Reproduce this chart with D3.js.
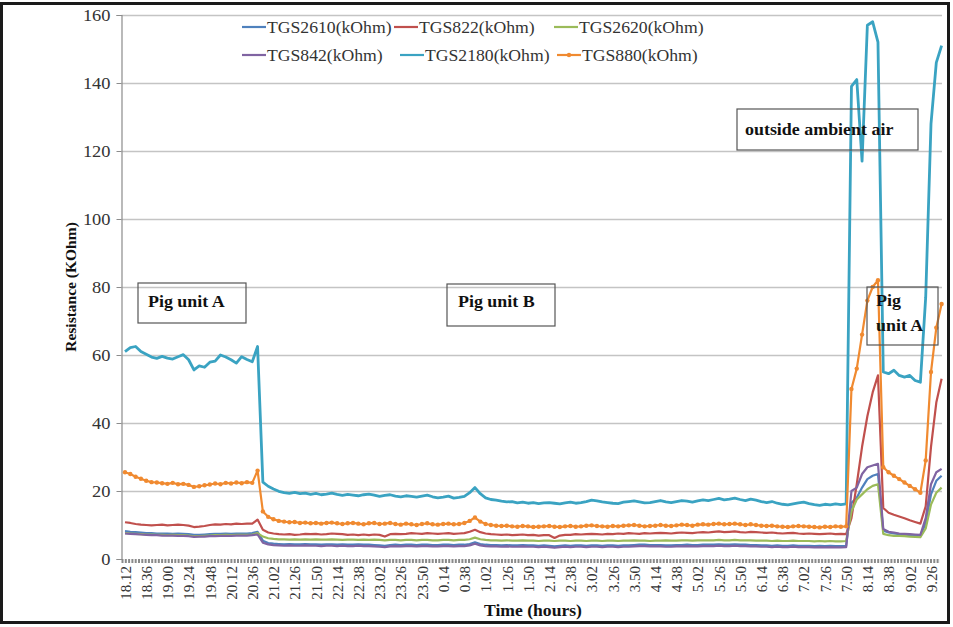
<!DOCTYPE html>
<html>
<head>
<meta charset="utf-8">
<script src="https://cdn.jsdelivr.net/npm/d3@7"></script>
<style>
  html, body { margin: 0; padding: 0; background: #fff; }
  svg { display: block; }
  text { font-family: "Liberation Serif", "Times New Roman", serif; }
</style>
</head>
<body>
<svg id="chart" width="953" height="627"></svg>
<script>
// Time-of-day labels on the category axis (one label every 4 samples)
const timeLabels = ["18.12","18.36","19.00","19.24","19.48","20.12","20.36","21.02","21.26","21.50",
  "22.14","22.38","23.02","23.26","23.50","0.14","0.38","1.02","1.26","1.50",
  "2.14","2.38","3.02","3.26","3.50","4.14","4.38","5.02","5.26","5.50",
  "6.14","6.38","7.02","7.26","7.50","8.14","8.38","9.02","9.26"];
const samplesPerLabel = 4;

// Sensor resistance readings (kOhm), one value per sample
const tgs2610 = [
  8.2, 8.0, 7.9, 7.8, 7.6, 7.6, 7.5, 7.5, 7.5, 7.4, 7.5, 7.4, 7.3, 7.1, 7.1, 7.2, 7.3, 7.4, 7.4, 7.5, 7.4, 7.5, 7.5, 7.5, 7.6, 8.0,
  5.4, 4.7, 4.5, 4.4,
  4.3, 4.4, 4.3, 4.3, 4.4, 4.3, 4.3, 4.2, 4.3, 4.3,
  4.2, 4.3, 4.2, 4.2, 4.3, 4.2, 4.2, 4.1, 4.0, 3.9,
  4.1, 4.2, 4.1, 4.2, 4.2, 4.1, 4.2, 4.2, 4.1, 4.1,
  4.2, 4.2, 4.1, 4.2, 4.2, 4.4, 4.9, 4.4, 4.2, 4.1,
  4.1, 4.0, 4.1, 4.0, 4.0, 4.1, 4.0, 4.0, 3.9, 4.0,
  3.9, 3.7, 3.9, 4.0, 3.9, 4.0, 4.0, 3.9, 4.0, 4.0,
  3.9, 4.0, 4.0, 3.9, 4.0, 4.0, 4.1, 4.2, 4.2, 4.1,
  4.1, 4.1, 4.0, 4.0, 4.1, 4.1, 4.2, 4.1, 4.1, 4.2,
  4.2, 4.2, 4.3, 4.2, 4.2, 4.3, 4.2, 4.2, 4.1, 4.1,
  4.0, 4.0, 3.9, 4.0, 3.9, 3.9, 4.0, 3.9, 3.9, 3.9,
  3.8, 3.9, 3.8, 3.9, 3.8, 3.8,
  3.9, 16.5, 18, 21, 23.5, 24.5, 25, 8.3, 7.8, 7.5, 7.3, 7.2, 7.0, 7.0, 6.9, 10.5, 19, 23, 24.5
];
const tgs822 = [
  10.8, 10.6, 10.3, 10.1, 10.0, 9.9, 10.0, 10.1, 9.9, 10.0, 10.1, 10.0, 9.8, 9.4, 9.5, 9.7, 10.0, 10.2, 10.1, 10.3, 10.2, 10.4, 10.3, 10.4, 10.4, 11.6,
  8.6, 7.8, 7.5, 7.3,
  7.2, 7.3, 7.1, 7.2, 7.4, 7.3, 7.4, 7.2, 7.3, 7.5,
  7.4, 7.3, 7.1, 7.2, 7.0, 7.2, 7.0, 7.2, 7.1, 6.6,
  7.3, 7.4, 7.3, 7.4, 7.6, 7.5, 7.4, 7.6, 7.5, 7.4,
  7.5, 7.6, 7.4, 7.5, 7.6, 8.0, 8.6, 7.9, 7.5, 7.3,
  7.2, 7.1, 7.2, 7.0, 7.1, 7.2, 7.0, 7.1, 6.9, 7.0,
  7.0, 6.2, 6.9, 7.1, 7.1, 7.3, 7.2, 7.3, 7.4, 7.3,
  7.2, 7.4, 7.3, 7.5, 7.4, 7.6, 7.5, 7.4, 7.6, 7.5,
  7.6, 7.7, 7.6, 7.5, 7.7, 7.8, 7.7, 7.6, 7.8, 7.9,
  7.8, 8.0, 8.1, 7.9, 8.0, 8.1, 7.9, 7.8, 8.0, 7.9,
  7.8, 7.7, 7.8, 7.6, 7.5, 7.6, 7.7, 7.5, 7.4, 7.5,
  7.4, 7.3, 7.4, 7.5, 7.3, 7.4,
  7.3, 12, 22, 33, 42, 49, 54, 15, 13.6, 13, 12.5, 12, 11.4, 10.9, 10.4, 15.5, 33, 46, 53
];
const tgs2620 = [
  7.6, 7.5, 7.4, 7.3, 7.2, 7.2, 7.1, 7.1, 7.0, 7.1, 7.0, 7.0, 6.9, 6.7, 6.7, 6.8, 6.9, 7.0, 7.0, 7.1, 7.0, 7.1, 7.1, 7.1, 7.2, 7.6,
  6.6, 6.1, 5.9, 5.8,
  5.8, 5.7, 5.8, 5.7, 5.8, 5.7, 5.8, 5.7, 5.7, 5.8,
  5.7, 5.6, 5.7, 5.7, 5.6, 5.7, 5.6, 5.7, 5.6, 5.5,
  5.6, 5.6, 5.5, 5.6, 5.6, 5.5, 5.6, 5.6, 5.5, 5.5,
  5.6, 5.6, 5.5, 5.6, 5.6, 5.8, 6.3, 5.8, 5.6, 5.5,
  5.5, 5.4, 5.5, 5.4, 5.4, 5.5, 5.4, 5.4, 5.3, 5.4,
  5.4, 5.3, 5.4, 5.4, 5.3, 5.4, 5.4, 5.3, 5.4, 5.4,
  5.3, 5.4, 5.4, 5.3, 5.4, 5.4, 5.5, 5.4, 5.4, 5.3,
  5.4, 5.4, 5.5, 5.4, 5.4, 5.5, 5.5, 5.4, 5.5, 5.5,
  5.5, 5.5, 5.6, 5.5, 5.5, 5.6, 5.5, 5.5, 5.5, 5.4,
  5.4, 5.4, 5.3, 5.4, 5.3, 5.3, 5.4, 5.3, 5.3, 5.3,
  5.2, 5.3, 5.2, 5.3, 5.2, 5.2,
  5.3, 14, 17.5, 19, 20.5, 21.5, 22, 7.4, 7.0, 6.8, 6.8, 6.7, 6.6, 6.5, 6.4, 9, 16, 19.5, 21
];
const tgs842 = [
  7.5, 7.4, 7.3, 7.2, 7.1, 7.0, 7.0, 6.9, 6.9, 6.9, 6.8, 6.8, 6.7, 6.5, 6.6, 6.6, 6.7, 6.7, 6.8, 6.8, 6.8, 6.9, 6.9, 6.9, 7.0, 7.2,
  4.8, 4.3, 4.1, 4.0,
  3.9, 4.0, 3.9, 3.9, 4.0, 3.9, 3.9, 3.8, 3.9, 3.9,
  3.8, 3.9, 3.8, 3.8, 3.9, 3.8, 3.8, 3.7, 3.6, 3.5,
  3.7, 3.8, 3.7, 3.8, 3.8, 3.7, 3.8, 3.8, 3.7, 3.7,
  3.8, 3.8, 3.7, 3.8, 3.8, 4.0, 4.5, 4.0, 3.8, 3.7,
  3.7, 3.6, 3.7, 3.6, 3.6, 3.7, 3.6, 3.6, 3.5, 3.6,
  3.5, 3.3, 3.5, 3.6, 3.5, 3.6, 3.6, 3.5, 3.6, 3.6,
  3.5, 3.6, 3.6, 3.5, 3.6, 3.6, 3.7, 3.8, 3.8, 3.7,
  3.7, 3.7, 3.6, 3.6, 3.7, 3.7, 3.8, 3.7, 3.7, 3.8,
  3.8, 3.8, 3.9, 3.8, 3.8, 3.9, 3.8, 3.8, 3.7, 3.7,
  3.6, 3.6, 3.5, 3.6, 3.5, 3.5, 3.6, 3.5, 3.5, 3.5,
  3.4, 3.5, 3.4, 3.5, 3.4, 3.4,
  3.5, 20, 21, 25, 27, 27.5, 28, 8.8, 8.0, 7.8, 7.5, 7.4, 7.3, 7.2, 7.1, 12, 22, 25.5, 26.5
];
const tgs2180 = [
  61.0, 62.2, 62.5, 61.0, 60.2, 59.4, 59.0, 59.6, 59.1, 58.8, 59.5, 60.1, 58.6, 55.6, 56.8, 56.4, 57.9, 58.2, 60.0, 59.4, 58.6, 57.6, 59.5, 58.7, 58.0, 62.5,
  22.6, 21.4, 20.6, 19.9,
  19.5, 19.3, 19.6, 19.2, 19.4, 19.0, 19.3, 18.9, 19.1, 19.4,
  19.0, 18.7, 19.0, 18.8, 18.6, 18.9, 19.1, 18.8, 18.4, 18.7,
  18.9, 18.5, 18.3, 18.6, 18.4, 18.2, 18.5, 18.8, 18.3, 18.0,
  18.2, 18.5, 17.9, 18.1, 18.4, 19.5, 21.0, 19.2, 18.0, 17.5,
  17.3, 17.0, 16.8, 16.9, 16.5, 16.7, 16.4, 16.6, 16.3, 16.5,
  16.6, 16.4, 16.2, 16.5, 16.7, 16.4, 16.6, 16.9, 17.3, 17.1,
  16.8, 16.6, 16.4, 16.3, 16.7, 16.9, 17.1, 16.8, 16.5, 16.6,
  16.9, 17.2, 16.8, 16.6, 16.9, 17.2, 17.0, 16.7, 17.1, 17.4,
  17.2, 17.5, 17.8, 17.4, 17.6, 17.9, 17.5, 17.2, 17.6, 17.3,
  16.9, 16.6, 16.9, 16.4, 16.1, 15.9, 16.2, 16.5, 16.7, 16.3,
  16.0, 15.8, 16.1, 15.9, 16.2, 16.0,
  16.2, 139, 141, 117, 157, 158, 152, 55, 54.5, 55.5, 54, 53.5, 54, 52.5, 52, 77, 128, 146, 151
];
const tgs880 = [
  25.5, 25.0, 24.2, 23.6, 23.0, 22.6, 22.5, 22.3, 22.1, 22.4, 22.0, 22.1, 21.8, 21.2, 21.4, 21.7, 21.9, 22.2, 22.0, 22.4, 22.2, 22.5, 22.3, 22.6, 22.4, 26.0,
  14.0, 12.4, 11.7, 11.2,
  11.0, 10.8, 10.9, 10.6, 10.7, 10.5, 10.6, 10.4, 10.6, 10.7,
  10.5, 10.3, 10.5, 10.6, 10.4, 10.2, 10.5, 10.6, 10.3, 10.4,
  10.6, 10.3, 10.1, 10.4, 10.2, 10.0, 10.3, 10.5, 10.2, 10.1,
  10.3, 10.4, 10.2, 10.3, 10.6, 11.2, 12.2, 11.0, 10.3, 10.0,
  9.8, 9.7, 9.8, 9.6, 9.5, 9.7, 9.6, 9.4, 9.5, 9.6,
  9.7, 9.5, 9.4, 9.6, 9.7, 9.5, 9.6, 9.8, 9.9, 9.7,
  9.6, 9.5, 9.7, 9.6, 9.8, 9.9, 10.0, 9.8, 9.6, 9.7,
  9.8, 10.0, 9.8, 9.7, 9.9, 10.1, 10.0, 9.8, 10.1, 10.2,
  10.1, 10.3, 10.4, 10.2, 10.3, 10.4, 10.2, 10.0, 10.2, 10.0,
  9.8, 9.7, 9.8, 9.6, 9.5, 9.4, 9.6, 9.7, 9.6, 9.5,
  9.4, 9.3, 9.5, 9.4, 9.6, 9.5,
  9.6, 50, 56, 66, 76, 80, 82, 27, 25.5, 24.5, 23.5, 22.5, 21.5, 20.5, 19.5, 29, 55, 68, 75
];

const seriesNames = ["TGS2610(kOhm)", "TGS822(kOhm)", "TGS2620(kOhm)", "TGS842(kOhm)", "TGS2180(kOhm)", "TGS880(kOhm)"];
const seriesValues = [tgs2610, tgs822, tgs2620, tgs842, tgs2180, tgs880];
const seriesColors = ["#4f81bd", "#c0504d", "#9bbb59", "#8064a2", "#3aa3c2", "#f08a30"];
const yTicks = [0, 20, 40, 60, 80, 100, 120, 140, 160];

// Text boxes placed over the plot
const notes = [
  { lines: ["Pig unit A"], box: [138, 283, 108, 40], at: [148, 307] },
  { lines: ["Pig unit B"], box: [447, 284, 108, 42], at: [458, 307] },
  { lines: ["outside ambient air"], box: [737, 109, 181, 41], at: [745, 135] },
  { lines: ["Pig", "unit A"], box: [867, 287, 71, 58], at: [876, 306] }
];

const svg = d3.select("#chart");
const plot = { left: 121.5, right: 942, top: 15, bottom: 559 };

// Glyphs in this chart are a touch wider than the stock serif face
function widen(sel, k) {
  sel.each(function () {
    const w = this.getComputedTextLength();
    d3.select(this).attr("textLength", w * k).attr("lengthAdjust", "spacingAndGlyphs");
  });
}

svg.append("rect").attr("width", 953).attr("height", 627).attr("fill", "#fff");

const x = d3.scaleLinear()
  .domain([0, (timeLabels.length - 1) * samplesPerLabel])
  .range([125, 931]);
const y = d3.scaleLinear().domain([0, 160]).range([plot.bottom, plot.top]);

// Horizontal gridlines
const grid = svg.append("g")
  .attr("transform", `translate(${plot.left},0)`)
  .call(d3.axisLeft(y).tickValues(yTicks.slice(1)).tickSize(-(plot.right - plot.left)).tickFormat(""));
grid.select(".domain").remove();
grid.selectAll("line").attr("stroke", "#c4c4c4").attr("stroke-width", 1.5);

// Y axis
const yAxis = svg.append("g")
  .attr("transform", `translate(${plot.left},0)`)
  .call(d3.axisLeft(y).tickValues(yTicks).tickSize(5).tickPadding(6));
yAxis.select(".domain").attr("stroke", "#8c8c8c").attr("stroke-width", 1.2);
yAxis.selectAll("line").attr("stroke", "#8c8c8c");
yAxis.selectAll("text")
  .attr("font-family", "Liberation Serif, serif")
  .attr("font-size", 16).attr("fill", "#333");
widen(yAxis.selectAll("text"), 1.15);

// X axis: dense per-sample tick marks plus rotated time labels
svg.append("line")
  .attr("x1", plot.left).attr("x2", plot.right - 2)
  .attr("y1", plot.bottom + 2).attr("y2", plot.bottom + 2)
  .attr("stroke", "#8a8a8a").attr("stroke-width", 4)
  .attr("stroke-dasharray", "2,1.3");

const xAxis = svg.append("g")
  .attr("transform", `translate(0,${plot.bottom})`)
  .call(d3.axisBottom(x)
    .tickValues(d3.range(0, timeLabels.length).map(j => j * samplesPerLabel))
    .tickSize(0)
    .tickFormat(d => timeLabels[d / samplesPerLabel]));
xAxis.select(".domain").remove();
xAxis.selectAll("text")
  .attr("font-family", "Liberation Serif, serif")
  .attr("font-size", 15).attr("fill", "#333")
  .attr("transform", "rotate(-90)")
  .attr("text-anchor", "end")
  .attr("x", -7).attr("y", 0).attr("dy", "0.35em");

// Series lines
const line = d3.line().x((d, i) => x(i)).y(d => y(d));
seriesValues.forEach((vals, s) => {
  svg.append("path")
    .datum(vals)
    .attr("fill", "none")
    .attr("stroke", seriesColors[s])
    .attr("stroke-width", s === 4 ? 2.8 : 2.2)
    .attr("stroke-linejoin", "round")
    .attr("d", line);
});
// TGS880 carries point markers
svg.append("g").selectAll("circle")
  .data(tgs880)
  .join("circle")
  .attr("cx", (d, i) => x(i)).attr("cy", d => y(d))
  .attr("r", 2.2).attr("fill", seriesColors[5]);

// Legend (two rows of three)
const legendPos = [[242, 27], [394, 27], [554, 27], [242, 55], [400, 55], [557, 55]];
seriesNames.forEach((name, s) => {
  const [lx, ly] = legendPos[s];
  const g = svg.append("g").attr("transform", `translate(${lx},${ly})`);
  g.append("line").attr("x1", 0).attr("x2", 24).attr("y1", 0).attr("y2", 0)
    .attr("stroke", seriesColors[s]).attr("stroke-width", 2.2);
  if (s === 5) g.append("circle").attr("cx", 12).attr("cy", 0).attr("r", 2.2).attr("fill", seriesColors[s]);
  const t = g.append("text").attr("x", 25).attr("y", 0).attr("dy", "0.35em")
    .attr("font-size", 16.5).attr("fill", "#333").text(name);
  widen(t, 1.07);
});

// Annotation boxes
notes.forEach(n => {
  svg.append("rect")
    .attr("x", n.box[0]).attr("y", n.box[1]).attr("width", n.box[2]).attr("height", n.box[3])
    .attr("fill", "none").attr("stroke", "#555").attr("stroke-width", 1.2);
  n.lines.forEach((ln, k) => {
    const t = svg.append("text")
      .attr("x", n.at[0]).attr("y", n.at[1] + k * 25)
      .attr("font-size", 16).attr("font-weight", "bold").attr("fill", "#111").text(ln);
    widen(t, 1.12);
  });
});

// Axis titles
svg.append("text")
  .attr("transform", `translate(76,${(plot.top + plot.bottom) / 2}) rotate(-90)`)
  .attr("text-anchor", "middle")
  .attr("font-size", 15.5).attr("font-weight", "bold").attr("fill", "#111")
  .text("Resistance (KOhm)");
const xt = svg.append("text")
  .attr("x", 484).attr("y", 616)
  .attr("font-size", 16).attr("font-weight", "bold").attr("fill", "#111")
  .text("Time (hours)");
widen(xt, 1.1);

// Outer frame
svg.append("rect")
  .attr("x", 1.5).attr("y", 3.5).attr("width", 947).attr("height", 619)
  .attr("fill", "none").attr("stroke", "#1a1a1a").attr("stroke-width", 3);
</script>
</body>
</html>
